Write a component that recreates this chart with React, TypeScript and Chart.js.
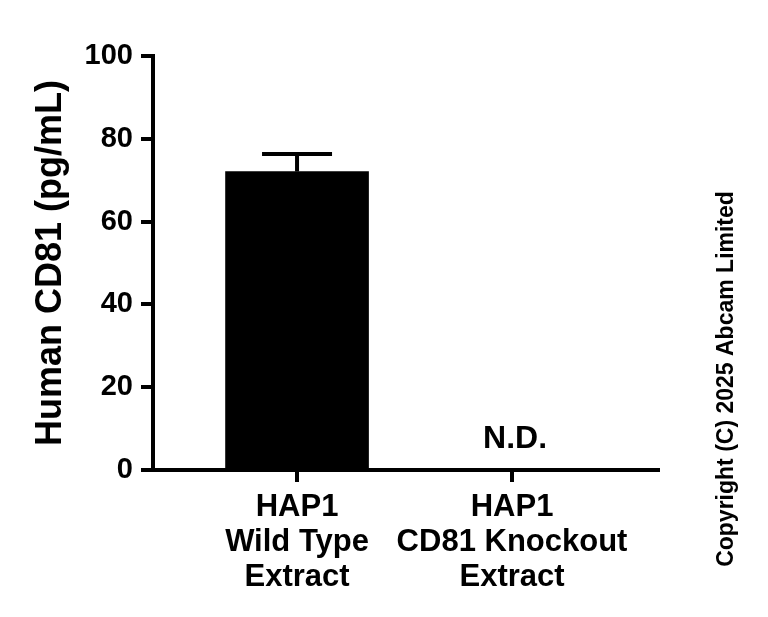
import React, { useEffect, useRef } from "react";
import { Chart, registerables } from "chart.js";

Chart.register(...registerables);

const categories: string[][] = [
  ["HAP1", "Wild Type", "Extract"],
  ["HAP1", "CD81 Knockout", "Extract"],
];
const values: (number | null)[] = [72.1, null];
const errors: number[] = [4.2, 0];
const annotations: string[] = ["", "N.D."];
const yTicks: number[] = [0, 20, 40, 60, 80, 100];
const yTitle = "Human CD81 (pg/mL)";
const copyright = "Copyright (C) 2025 Abcam Limited";

const FONT = "'Liberation Sans', Arial, Helvetica, sans-serif";

const extrasPlugin = {
  id: "extras",
  afterDatasetsDraw(chart: any) {
    const { ctx, scales } = chart;
    const xs = scales.x;
    const ys = scales.y;
    ctx.save();
    // error bars
    values.forEach((v, i) => {
      if (v == null) return;
      const e = errors[i];
      if (!e) return;
      const x = xs.getPixelForValue(i + 1);
      const yTop = ys.getPixelForValue(v + e);
      const yBar = ys.getPixelForValue(v);
      ctx.strokeStyle = "#000";
      ctx.lineWidth = 4;
      ctx.lineCap = "butt";
      ctx.beginPath();
      ctx.moveTo(x, yBar);
      ctx.lineTo(x, yTop);
      ctx.moveTo(x - 35, yTop);
      ctx.lineTo(x + 35, yTop);
      ctx.stroke();
    });
    // annotations
    ctx.fillStyle = "#000";
    ctx.font = `bold 32px ${FONT}`;
    ctx.textAlign = "center";
    ctx.textBaseline = "alphabetic";
    annotations.forEach((a, i) => {
      if (!a) return;
      const x = xs.getPixelForValue(i + 1);
      const y = ys.getPixelForValue(0) - 22;
      ctx.fillText(a, x + 3, y);
    });
    // copyright
    ctx.font = `bold 23px ${FONT}`;
    ctx.translate(733, 379);
    ctx.rotate(-Math.PI / 2);
    ctx.textAlign = "center";
    ctx.textBaseline = "alphabetic";
    ctx.fillText(copyright, 0, 0);
    ctx.restore();
  },
};

export default function App() {
  const ref = useRef<HTMLCanvasElement | null>(null);
  useEffect(() => {
    if (!ref.current) return;
    const chart = new Chart(ref.current, {
      type: "bar",
      data: {
        datasets: [
          {
            data: values.map((v, i) => ({ x: i + 1, y: v })) as any,
            backgroundColor: "#000",
            borderWidth: 0,
            barThickness: 143,
          },
        ],
      },
      options: {
        animation: false,
        responsive: true,
        maintainAspectRatio: false,
        devicePixelRatio: 1,
        layout: { padding: { top: 56, right: 110, left: 0, bottom: 0 } },
        plugins: { legend: { display: false }, tooltip: { enabled: false } },
        scales: {
          x: {
            type: "linear",
            min: 0.33,
            max: 2.679,
            offset: false,
            afterBuildTicks: (scale: any) => {
              scale.ticks = categories.map((_, i) => ({ value: i + 1 }));
            },
            afterFit: (scale: any) => {
              scale.height = 147;
            },
            border: { display: true, color: "#000", width: 4 },
            grid: {
              offset: false,
              drawOnChartArea: false,
              drawTicks: true,
              tickLength: 12,
              tickWidth: 4,
              color: "#000",
              lineWidth: 4,
            },
            ticks: {
              color: "#000",
              padding: 8,
              maxRotation: 0,
              autoSkip: false,
              font: { family: FONT, size: 31, weight: "bold", lineHeight: 1.13 },
              callback: (value: any) => categories[Number(value) - 1] ?? "",
            },
          },
          y: {
            min: 0,
            max: 100,
            afterBuildTicks: (scale: any) => {
              scale.ticks = yTicks.map((v) => ({ value: v }));
            },
            afterFit: (scale: any) => {
              scale.width = 153;
            },
            border: { display: true, color: "#000", width: 4 },
            grid: {
              drawOnChartArea: false,
              drawTicks: true,
              tickLength: 12,
              tickWidth: 4,
              color: "#000",
              lineWidth: 4,
            },
            ticks: {
              color: "#000",
              padding: 8,
              font: { family: FONT, size: 29, weight: "bold" },
            },
            title: {
              display: true,
              text: yTitle,
              color: "#000",
              padding: { top: 29, bottom: 0 },
              font: { family: FONT, size: 36, weight: "bold", lineHeight: 1.2 },
            },
          },
        },
      },
      plugins: [extrasPlugin],
    });
    return () => chart.destroy();
  }, []);
  return (
    <div
      style={{
        position: "fixed",
        left: 0,
        top: 0,
        width: 768,
        height: 617,
        background: "#fff",
      }}
    >
      <canvas ref={ref} />
    </div>
  );
}
